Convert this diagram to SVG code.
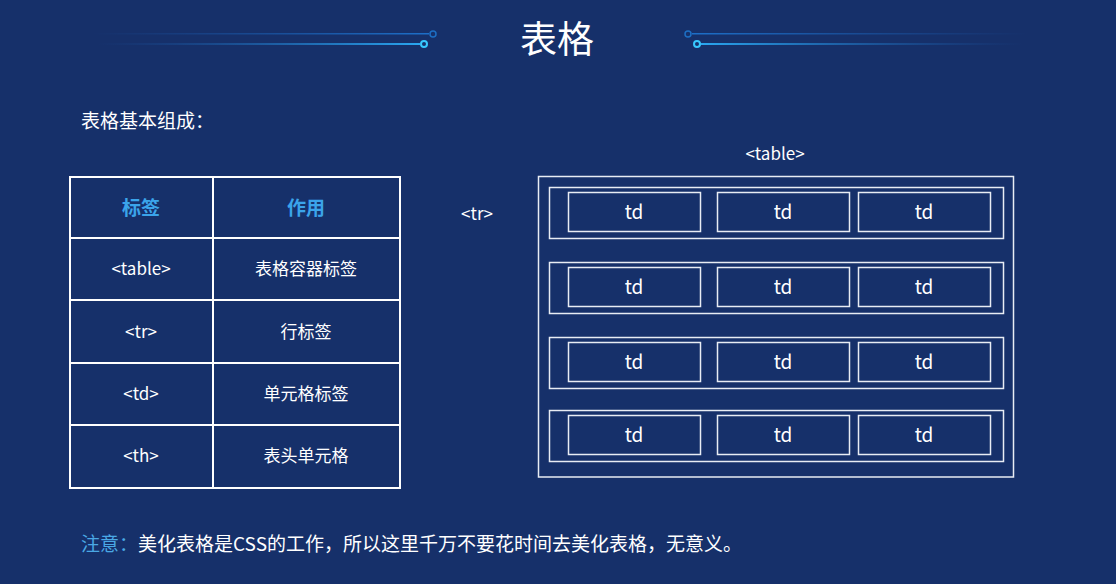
<svg xmlns="http://www.w3.org/2000/svg" width="1116" height="584" viewBox="0 0 1116 584">
<defs>
<linearGradient id="gl" x1="0" y1="0" x2="1" y2="0">
<stop offset="0" stop-color="#1a5bb0" stop-opacity="0"/>
<stop offset="1" stop-color="#1d6fc8" stop-opacity="1"/>
</linearGradient>
<linearGradient id="gr" x1="0" y1="0" x2="1" y2="0">
<stop offset="0" stop-color="#1d6fc8" stop-opacity="1"/>
<stop offset="1" stop-color="#1a5bb0" stop-opacity="0"/>
</linearGradient>
<linearGradient id="gl2" x1="0" y1="0" x2="1" y2="0">
<stop offset="0" stop-color="#1a5bb0" stop-opacity="0"/>
<stop offset="1" stop-color="#2aa6f0" stop-opacity="1"/>
</linearGradient>
<linearGradient id="gr2" x1="0" y1="0" x2="1" y2="0">
<stop offset="0" stop-color="#2aa6f0" stop-opacity="1"/>
<stop offset="1" stop-color="#1a5bb0" stop-opacity="0"/>
</linearGradient>
</defs>
<style>
text{font-family:"Noto Sans CJK SC","Noto Sans",sans-serif;fill:#ffffff}
.t{font-size:17px;text-anchor:middle}
.h{font-size:19px;font-weight:bold;fill:#3ba4ea;text-anchor:middle}
.td{font-size:19px;text-anchor:middle}
.grid{stroke:#ffffff;stroke-width:2;fill:none}
.box{stroke:#e8ecf4;stroke-width:1.5;fill:none}
</style>
<rect width="1116" height="584" fill="#16306a"/>
<g id="title">
<rect x="93" y="33" width="336" height="1.5" fill="url(#gl)"/>
<rect x="98" y="43" width="322" height="2" fill="url(#gl2)"/>
<circle cx="433" cy="34" r="3" fill="none" stroke="#1d6fc4" stroke-width="1.5"/>
<circle cx="424" cy="44" r="3" fill="none" stroke="#37c8ff" stroke-width="2"/>
<rect x="692" y="33" width="336" height="1.5" fill="url(#gr)"/>
<rect x="701" y="43" width="322" height="2" fill="url(#gr2)"/>
<circle cx="688" cy="34" r="3" fill="none" stroke="#1d6fc4" stroke-width="1.5"/>
<circle cx="697" cy="44" r="3" fill="none" stroke="#37c8ff" stroke-width="2"/>
<text x="557" y="53" style="font-size:37px;text-anchor:middle">表格</text>
</g>
<text x="81" y="128" style="font-size:19px">表格基本组成：</text>
<g id="left-table">
<rect class="grid" x="70" y="177" width="330" height="311"/>
<line class="grid" x1="213" y1="177" x2="213" y2="488"/>
<line class="grid" x1="70" y1="238" x2="400" y2="238"/>
<line class="grid" x1="70" y1="300" x2="400" y2="300"/>
<line class="grid" x1="70" y1="363" x2="400" y2="363"/>
<line class="grid" x1="70" y1="425" x2="400" y2="425"/>
<text class="h" x="141" y="215">标签</text>
<text class="h" x="306" y="215">作用</text>
<text class="t" x="141" y="275">&lt;table&gt;</text>
<text class="t" x="306" y="275">表格容器标签</text>
<text class="t" x="141" y="338">&lt;tr&gt;</text>
<text class="t" x="306" y="338">行标签</text>
<text class="t" x="141" y="400">&lt;td&gt;</text>
<text class="t" x="306" y="400">单元格标签</text>
<text class="t" x="141" y="462">&lt;th&gt;</text>
<text class="t" x="306" y="462">表头单元格</text>
</g>
<g id="diagram">
<text class="t" x="775" y="160">&lt;table&gt;</text>
<text class="t" x="477" y="220">&lt;tr&gt;</text>
<rect class="box" x="538.5" y="176.5" width="475" height="300.5"/>
<g id="row1">
<rect class="box" x="549.5" y="187.5" width="454" height="51"/>
<rect class="box" x="568.5" y="192.5" width="132" height="39"/>
<rect class="box" x="717.5" y="192.5" width="132" height="39"/>
<rect class="box" x="858.5" y="192.5" width="132" height="39"/>
<text class="td" x="634" y="219">td</text>
<text class="td" x="783" y="219">td</text>
<text class="td" x="924" y="219">td</text>
</g>
<g id="row2">
<rect class="box" x="549.5" y="262.5" width="454" height="51"/>
<rect class="box" x="568.5" y="267.5" width="132" height="39"/>
<rect class="box" x="717.5" y="267.5" width="132" height="39"/>
<rect class="box" x="858.5" y="267.5" width="132" height="39"/>
<text class="td" x="634" y="294">td</text>
<text class="td" x="783" y="294">td</text>
<text class="td" x="924" y="294">td</text>
</g>
<g id="row3">
<rect class="box" x="549.5" y="337.5" width="454" height="51"/>
<rect class="box" x="568.5" y="342.5" width="132" height="39"/>
<rect class="box" x="717.5" y="342.5" width="132" height="39"/>
<rect class="box" x="858.5" y="342.5" width="132" height="39"/>
<text class="td" x="634" y="369">td</text>
<text class="td" x="783" y="369">td</text>
<text class="td" x="924" y="369">td</text>
</g>
<g id="row4">
<rect class="box" x="549.5" y="410.5" width="454" height="51"/>
<rect class="box" x="568.5" y="415.5" width="132" height="39"/>
<rect class="box" x="717.5" y="415.5" width="132" height="39"/>
<rect class="box" x="858.5" y="415.5" width="132" height="39"/>
<text class="td" x="634" y="442">td</text>
<text class="td" x="783" y="442">td</text>
<text class="td" x="924" y="442">td</text>
</g>
</g>
<text x="81" y="551" style="font-size:19px"><tspan fill="#4aa8e4">注意：</tspan>美化表格是CSS的工作，所以这里千万不要花时间去美化表格，无意义。</text>
</svg>
